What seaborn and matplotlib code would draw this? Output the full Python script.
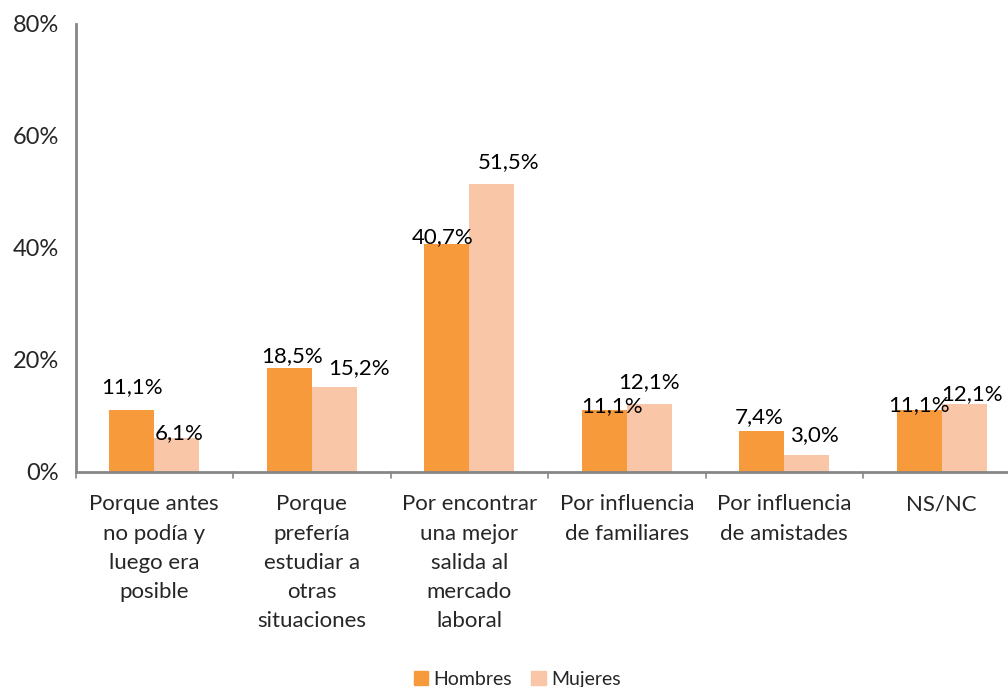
import matplotlib
matplotlib.use("Agg")
import matplotlib.pyplot as plt
import seaborn as sns
import pandas as pd
import numpy as np

categorias = [
    "Porque antes\nno podía y\nluego era\nposible",
    "Porque\nprefería\nestudiar a\notras\nsituaciones",
    "Por encontrar\nuna mejor\nsalida al\nmercado\nlaboral",
    "Por influencia\nde familiares",
    "Por influencia\nde amistades",
    "NS/NC",
]
hombres = [11.1, 18.5, 40.7, 11.1, 7.4, 11.1]
mujeres = [6.1, 15.2, 51.5, 12.1, 3.0, 12.1]
series = ["Hombres", "Mujeres"]
colores = ["#F79A3C", "#FAC6A8"]

df = pd.DataFrame({
    "categoria": categorias * 2,
    "valor": hombres + mujeres,
    "serie": [series[0]] * len(categorias) + [series[1]] * len(categorias),
})

sns.set_style("white")
plt.rcParams["font.family"] = ["Lato", "DejaVu Sans"]

fig = plt.figure(figsize=(10.08, 6.87), dpi=100)
# the plot area runs past the right edge of the figure
ax = fig.add_axes([75.5 / 1008, 1 - 472 / 687, 945 / 1008, 448 / 687])

sns.barplot(data=df, x="categoria", y="valor", hue="serie", palette=colores,
            width=0.57, dodge=True, ax=ax, legend=False, saturation=1,
            linewidth=0, edgecolor="none")

# label placement: height of label centre above bar top, and sideways shift (pixels)
off_h = [23, 12, 7, 4, 13, 5]
off_m = [5, 19, 22, 22, 20, 10]
dx_h = [0, 3, -4, 8, -3, 0]
dx_m = [2, 25, 17, 0, 8, 8]
offs = [off_h, off_m]
dxs = [dx_h, dx_m]
for i, cont in enumerate(ax.containers):
    for j, bar in enumerate(cont):
        v = bar.get_height()
        ax.annotate(f"{v:.1f}".replace(".", ",") + "%",
                    (bar.get_x() + bar.get_width() / 2, v),
                    xytext=(dxs[i][j], offs[i][j]), textcoords="offset pixels",
                    ha="center", va="center", fontsize=16, color="#000000")

ax.set_ylim(0, 80)
ax.set_xlim(-0.5, len(categorias) - 0.5)
ax.set_yticks([0, 20, 40, 60, 80])
ax.set_yticklabels([f"{t}%" for t in [0, 20, 40, 60, 80]], fontsize=17)
ax.set_xticks(range(len(categorias)))
ax.set_xticklabels(categorias, fontsize=16, linespacing=1.58, va="top")
ax.tick_params(axis="x", length=0, pad=16)
ax.tick_params(axis="y", length=6, width=1.2, color="#868686", direction="out", pad=6)
ax.set_xlabel("")
ax.set_ylabel("")

for s in ["top", "right"]:
    ax.spines[s].set_visible(False)
for s in ["left", "bottom"]:
    ax.spines[s].set_color("#868686")
    ax.spines[s].set_linewidth(2)

# small separators between category groups below the axis
for b in np.arange(-0.5, len(categorias), 1.0):
    ax.plot([b, b], [0, -1.0], color="#868686", lw=1.2, clip_on=False)

handles = [plt.Rectangle((0, 0), 1, 1, color=c) for c in colores]
fig.legend(handles, series, loc="lower center", bbox_to_anchor=(0.513, -0.027),
           ncol=2, frameon=False, fontsize=14, handlelength=0.75, handleheight=0.75,
           handletextpad=0.25, columnspacing=1.0)

fig.savefig("out.png", dpi=100)
